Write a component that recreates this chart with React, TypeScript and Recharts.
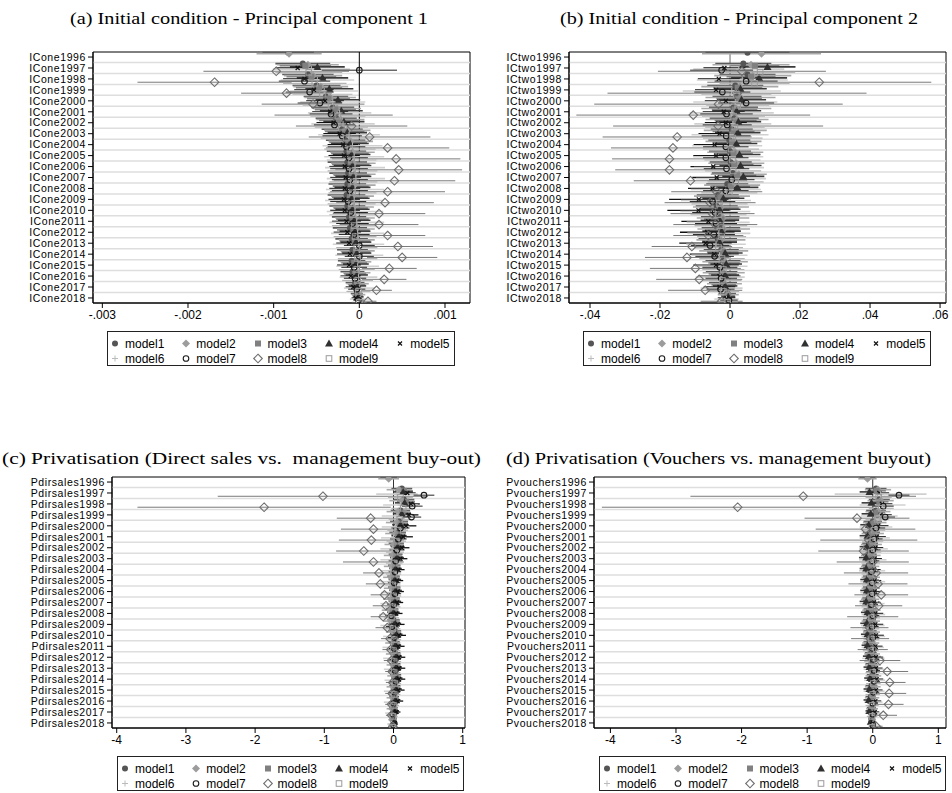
import React from 'react';
import {
  ScatterChart,
  Scatter,
  XAxis,
  YAxis,
  ErrorBar,
  ReferenceLine,
  ReferenceArea,
} from 'recharts';

const years = [
  1996, 1997, 1998, 1999, 2000, 2001, 2002, 2003, 2004, 2005, 2006, 2007,
  2008, 2009, 2010, 2011, 2012, 2013, 2014, 2015, 2016, 2017, 2018,
];
const models = ['model1', 'model2', 'model3', 'model4', 'model5', 'model6', 'model7', 'model8', 'model9'];

const labelsA = years.map((y) => `ICone${y}`);
const labelsB = years.map((y) => `ICtwo${y}`);
const labelsC = years.map((y) => `Pdirsales${y}`);
const labelsD = years.map((y) => `Pvouchers${y}`);

const ticksA = [-0.003, -0.002, -0.001, 0, 0.001];
const ticksB = [-0.04, -0.02, 0, 0.02, 0.04, 0.06];
const ticksCD = [-4, -3, -2, -1, 0, 1];

type Row = (number | null)[];

// (a) Initial condition - PC1: point estimates, one row per model
const estA: Row[] = [
  [-8.3e-4, -6.6e-4, -6.0e-4, -5.0e-4, -3.9e-4, -3.1e-4, -2.7e-4, -2.0e-4, -1.6e-4, -1.5e-4, -1.4e-4, -1.3e-4, -1.4e-4, -1.5e-4, -1.4e-4, -1.2e-4, -1.1e-4, -0.9e-4, -0.8e-4, -0.9e-4, -0.8e-4, -0.5e-4, -0.3e-4],
  [-8.2e-4, -6.0e-4, -5.4e-4, -4.5e-4, -3.4e-4, -2.6e-4, -2.2e-4, -1.4e-4, -1.0e-4, -0.8e-4, -0.7e-4, -0.6e-4, -0.6e-4, -0.8e-4, -0.7e-4, -0.5e-4, -0.4e-4, -0.3e-4, -0.2e-4, -0.4e-4, -0.3e-4, -0.2e-4, -0.1e-4],
  [null, -6.3e-4, -5.6e-4, -4.7e-4, -3.6e-4, -2.8e-4, -2.4e-4, -1.7e-4, -1.3e-4, -1.1e-4, -1.0e-4, -0.9e-4, -1.0e-4, -1.1e-4, -1.0e-4, -0.8e-4, -0.7e-4, -0.5e-4, -0.4e-4, -0.6e-4, -0.5e-4, -0.3e-4, -0.2e-4],
  [null, -4.9e-4, -4.3e-4, -3.5e-4, -2.5e-4, -2.1e-4, -1.8e-4, -1.4e-4, -1.1e-4, -0.9e-4, -0.8e-4, -0.7e-4, -0.8e-4, -0.9e-4, -0.8e-4, -0.6e-4, -0.5e-4, -0.4e-4, -0.3e-4, -0.4e-4, -0.3e-4, -0.2e-4, -0.1e-4],
  [null, -7.2e-4, -6.4e-4, -5.3e-4, -4.0e-4, -3.4e-4, -3.0e-4, -2.3e-4, -1.9e-4, -1.8e-4, -1.7e-4, -1.6e-4, -1.7e-4, -1.8e-4, -1.7e-4, -1.5e-4, -1.4e-4, -1.2e-4, -1.1e-4, -1.2e-4, -1.0e-4, -0.7e-4, -0.4e-4],
  [null, -5.6e-4, -4.9e-4, -4.1e-4, -3.1e-4, -2.3e-4, -1.9e-4, -1.2e-4, -0.8e-4, -0.6e-4, -0.5e-4, -0.4e-4, -0.5e-4, -0.6e-4, -0.5e-4, -0.3e-4, -0.2e-4, -0.1e-4, 0, -0.2e-4, -0.1e-4, 0, 0.1e-4],
  [null, 0, -6.4e-4, -5.8e-4, -4.6e-4, -3.3e-4, -2.9e-4, -2.0e-4, -1.5e-4, -1.2e-4, -1.2e-4, -1.1e-4, -1.1e-4, -1.3e-4, -1.0e-4, -0.8e-4, -0.6e-4, 0, 0, -0.6e-4, -0.5e-4, -0.3e-4, -0.1e-4],
  [null, -9.7e-4, -16.9e-4, -8.5e-4, -5.4e-4, -3.0e-4, -0.9e-4, 1.2e-4, 3.3e-4, 4.3e-4, 4.6e-4, 4.1e-4, 3.3e-4, 3.0e-4, 2.3e-4, 2.3e-4, 3.3e-4, 4.5e-4, 5.0e-4, 3.5e-4, 2.9e-4, 2.0e-4, 1.0e-4],
  [null, -5.9e-4, -5.2e-4, -4.3e-4, -3.3e-4, -2.5e-4, -2.1e-4, -1.5e-4, -1.1e-4, -0.9e-4, -0.8e-4, -0.7e-4, -0.8e-4, -0.9e-4, -0.8e-4, -0.6e-4, -0.5e-4, -0.3e-4, -0.2e-4, -0.3e-4, -0.2e-4, -0.1e-4, 0],
];
// half-widths of the confidence intervals
const ciA: Row[] = [
  [3.0e-4, 3.2e-4, 3.0e-4, 2.8e-4, 2.6e-4, 2.5e-4, 2.4e-4, 2.4e-4, 2.3e-4, 2.3e-4, 2.3e-4, 2.2e-4, 2.2e-4, 2.2e-4, 2.1e-4, 2.0e-4, 2.0e-4, 1.9e-4, 1.8e-4, 1.6e-4, 1.4e-4, 1.1e-4, 0.7e-4],
  [3.8e-4, 3.6e-4, 3.4e-4, 3.2e-4, 3.0e-4, 2.8e-4, 2.8e-4, 2.7e-4, 2.6e-4, 2.6e-4, 2.6e-4, 2.5e-4, 2.5e-4, 2.5e-4, 2.4e-4, 2.3e-4, 2.2e-4, 2.1e-4, 2.0e-4, 1.8e-4, 1.6e-4, 1.3e-4, 0.8e-4],
  [null, 3.0e-4, 2.9e-4, 2.7e-4, 2.5e-4, 2.4e-4, 2.3e-4, 2.3e-4, 2.2e-4, 2.2e-4, 2.2e-4, 2.1e-4, 2.1e-4, 2.1e-4, 2.0e-4, 1.9e-4, 1.9e-4, 1.8e-4, 1.7e-4, 1.5e-4, 1.3e-4, 1.0e-4, 0.6e-4],
  [null, 3.2e-4, 3.0e-4, 2.8e-4, 2.6e-4, 2.5e-4, 2.4e-4, 2.3e-4, 2.2e-4, 2.2e-4, 2.2e-4, 2.1e-4, 2.1e-4, 2.1e-4, 2.0e-4, 1.9e-4, 1.8e-4, 1.8e-4, 1.7e-4, 1.5e-4, 1.3e-4, 1.0e-4, 0.6e-4],
  [null, 2.6e-4, 2.5e-4, 2.3e-4, 2.2e-4, 2.1e-4, 2.0e-4, 1.9e-4, 1.8e-4, 1.8e-4, 1.8e-4, 1.8e-4, 1.8e-4, 1.8e-4, 1.7e-4, 1.7e-4, 1.6e-4, 1.5e-4, 1.5e-4, 1.4e-4, 1.2e-4, 0.9e-4, 0.5e-4],
  [null, 4.5e-4, 4.3e-4, 4.0e-4, 3.8e-4, 3.7e-4, 3.7e-4, 3.6e-4, 3.5e-4, 3.5e-4, 3.5e-4, 3.4e-4, 3.4e-4, 3.4e-4, 3.3e-4, 3.2e-4, 3.1e-4, 3.0e-4, 2.8e-4, 2.5e-4, 2.2e-4, 1.8e-4, 1.2e-4],
  [null, 4.4e-4, 3.0e-4, 2.8e-4, 2.6e-4, 2.5e-4, 2.4e-4, 2.3e-4, 2.2e-4, 2.2e-4, 2.2e-4, 2.1e-4, 2.1e-4, 2.1e-4, 2.0e-4, 1.9e-4, 1.8e-4, 1.8e-4, 1.7e-4, 1.5e-4, 1.3e-4, 1.0e-4, 0.6e-4],
  [null, 8.5e-4, 9.0e-4, 5.3e-4, 6.0e-4, 6.9e-4, 6.5e-4, 7.1e-4, 7.2e-4, 7.5e-4, 7.4e-4, 7.1e-4, 6.7e-4, 5.7e-4, 5.4e-4, 4.6e-4, 4.4e-4, 4.1e-4, 4.1e-4, 3.2e-4, 2.6e-4, 1.8e-4, 1.0e-4],
  [null, 3.9e-4, 3.7e-4, 3.5e-4, 3.3e-4, 3.2e-4, 3.1e-4, 3.0e-4, 3.0e-4, 2.9e-4, 2.9e-4, 2.8e-4, 2.8e-4, 2.8e-4, 2.7e-4, 2.6e-4, 2.5e-4, 2.4e-4, 2.3e-4, 2.1e-4, 1.8e-4, 1.4e-4, 0.9e-4],
];

// (b) Initial condition - PC2
const estB: Row[] = [
  [5.0e-3, 3.8e-3, 5.0e-3, 1.5e-3, 2.0e-3, 1.0e-3, 1.2e-3, 0.5e-3, -0.2e-3, 0, 0.2e-3, 0.8e-3, -0.8e-3, -3.5e-3, -3.8e-3, -2.8e-3, -2.6e-3, -3.5e-3, -2.5e-3, -2.0e-3, -2.4e-3, -2.0e-3, -0.8e-3],
  [9.0e-3, 6.0e-3, 6.5e-3, 2.8e-3, 3.0e-3, 1.8e-3, 2.0e-3, 1.5e-3, 1.0e-3, 1.5e-3, 1.8e-3, 2.5e-3, 0.6e-3, -2.3e-3, -2.6e-3, -2.0e-3, -1.8e-3, -2.6e-3, -1.8e-3, -1.4e-3, -1.8e-3, -1.6e-3, -0.5e-3],
  [null, 7.1e-3, 6.0e-3, 2.2e-3, 2.6e-3, 1.3e-3, 1.6e-3, 1.0e-3, 0.6e-3, 1.0e-3, 1.2e-3, 2.0e-3, 0.2e-3, -2.8e-3, -3.0e-3, -2.4e-3, -2.2e-3, -3.0e-3, -2.1e-3, -1.7e-3, -2.1e-3, -1.8e-3, -0.6e-3],
  [null, 10.7e-3, 8.3e-3, 3.0e-3, 3.3e-3, 1.9e-3, 2.4e-3, 2.2e-3, 1.8e-3, 2.7e-3, 3.0e-3, 3.8e-3, 2.1e-3, -1.9e-3, -3.0e-3, -2.9e-3, -2.4e-3, -3.0e-3, -1.4e-3, -1.1e-3, -1.4e-3, -1.4e-3, -0.5e-3],
  [null, -1.6e-3, -3.2e-3, -4.0e-3, -1.2e-3, -1.8e-3, -1.2e-3, -3.0e-3, -4.4e-3, -4.0e-3, -4.8e-3, -3.8e-3, -5.0e-3, -8.9e-3, -9.0e-3, -6.2e-3, -6.5e-3, -7.0e-3, -4.5e-3, -4.0e-3, -3.0e-3, -3.0e-3, -1.0e-3],
  [null, 2.5e-3, 3.5e-3, 0.5e-3, 1.5e-3, 0.5e-3, 0.8e-3, 0, -0.8e-3, -0.5e-3, -0.3e-3, 0.3e-3, -1.2e-3, -4.0e-3, -4.2e-3, -3.4e-3, -3.2e-3, -4.0e-3, -3.0e-3, -2.5e-3, -2.8e-3, -2.4e-3, -1.0e-3],
  [null, -2.4e-3, 4.6e-3, -2.2e-3, 4.6e-3, -1.0e-3, -0.8e-3, -1.1e-3, -1.2e-3, -1.2e-3, -1.0e-3, 0.5e-3, -1.2e-3, -5.0e-3, -4.3e-3, -4.0e-3, -4.6e-3, -5.7e-3, -4.4e-3, -2.9e-3, -2.5e-3, -2.7e-3, -0.3e-3],
  [null, 3.4e-3, 25.5e-3, 2.0e-3, -3.3e-3, -10.5e-3, -3.4e-3, -15.1e-3, -16.3e-3, -17.3e-3, -17.3e-3, -11.3e-3, -3.8e-3, -5.7e-3, -5.0e-3, -4.2e-3, -6.2e-3, -10.9e-3, -12.3e-3, -9.9e-3, -8.8e-3, -7.1e-3, -2.4e-3],
  [null, 8.6e-3, 7.0e-3, 1.8e-3, 2.2e-3, 1.0e-3, 1.4e-3, 0.8e-3, 0.3e-3, 0.7e-3, 0.9e-3, 1.6e-3, -0.2e-3, -3.0e-3, -3.3e-3, -2.6e-3, -2.4e-3, -3.3e-3, -2.3e-3, -1.9e-3, -2.2e-3, -1.9e-3, -0.7e-3],
];
const ciB: Row[] = [
  [12e-3, 8e-3, 8e-3, 8e-3, 7e-3, 7e-3, 7e-3, 6e-3, 6e-3, 6e-3, 6e-3, 6e-3, 6e-3, 6e-3, 6e-3, 5.5e-3, 5.5e-3, 5.5e-3, 5e-3, 5e-3, 4.5e-3, 4e-3, 2.5e-3],
  [17e-3, 11e-3, 11e-3, 11e-3, 10e-3, 10e-3, 9e-3, 9e-3, 8e-3, 8e-3, 8e-3, 8e-3, 8e-3, 8e-3, 8e-3, 7.5e-3, 7.5e-3, 7e-3, 7e-3, 6.5e-3, 6e-3, 5e-3, 3e-3],
  [null, 7e-3, 7e-3, 7e-3, 6.5e-3, 6.5e-3, 6e-3, 6e-3, 5.5e-3, 5.5e-3, 5.5e-3, 5.5e-3, 5.5e-3, 5.5e-3, 5.5e-3, 5e-3, 5e-3, 5e-3, 4.5e-3, 4.5e-3, 4e-3, 3.5e-3, 2e-3],
  [null, 8e-3, 8e-3, 7.5e-3, 7e-3, 7e-3, 6.5e-3, 6.5e-3, 6e-3, 6e-3, 6e-3, 6e-3, 6e-3, 6e-3, 6e-3, 5.5e-3, 5.5e-3, 5e-3, 5e-3, 4.5e-3, 4e-3, 3.5e-3, 2e-3],
  [null, 6e-3, 6e-3, 6e-3, 6e-3, 6e-3, 6e-3, 6e-3, 6e-3, 6.5e-3, 6.5e-3, 7e-3, 7e-3, 8.5e-3, 8.9e-3, 7.7e-3, 7.8e-3, 7.5e-3, 7e-3, 6.5e-3, 6e-3, 4.5e-3, 2.5e-3],
  [null, 13e-3, 13e-3, 14e-3, 12e-3, 12e-3, 11e-3, 11e-3, 10e-3, 10e-3, 10e-3, 10e-3, 10e-3, 10e-3, 10e-3, 9e-3, 9e-3, 8.5e-3, 8e-3, 7.5e-3, 7e-3, 6e-3, 3.5e-3],
  [null, 9e-3, 9e-3, 8e-3, 8e-3, 7.5e-3, 7e-3, 7e-3, 6.5e-3, 6.5e-3, 6.5e-3, 6.5e-3, 6.5e-3, 6.5e-3, 6.5e-3, 6e-3, 6e-3, 5.5e-3, 5.5e-3, 5e-3, 4.5e-3, 4e-3, 2.5e-3],
  [null, 24e-3, 32e-3, 37e-3, 35.5e-3, 33.4e-3, 30e-3, 21.3e-3, 17.7e-3, 16.4e-3, 15.5e-3, 16.2e-3, 13e-3, 13e-3, 12e-3, 12e-3, 10e-3, 11.5e-3, 12e-3, 13e-3, 12.3e-3, 10.6e-3, 6e-3],
  [null, 10e-3, 10e-3, 10e-3, 9e-3, 9e-3, 8.5e-3, 8.5e-3, 8e-3, 8e-3, 8e-3, 8e-3, 8e-3, 8e-3, 8e-3, 7.5e-3, 7e-3, 7e-3, 6.5e-3, 6e-3, 5.5e-3, 4.5e-3, 3e-3],
];

// (c) Privatisation: direct sales vs. management buy-out
const estC: Row[] = [
  [-0.07, 0.12, 0.15, 0.10, 0.08, 0.06, 0.04, 0.03, 0.01, 0.00, 0.01, 0.00, -0.02, 0.00, 0.02, 0.01, 0.02, 0.02, 0.03, 0.02, 0.01, 0.00, 0.00],
  [-0.07, 0.08, 0.12, 0.07, 0.05, 0.03, 0.01, -0.01, -0.02, -0.03, -0.02, -0.03, -0.05, -0.03, 0.00, -0.01, 0.00, 0.00, 0.01, 0.00, -0.01, -0.02, -0.02],
  [null, 0.15, 0.18, 0.13, 0.10, 0.07, 0.05, 0.04, 0.02, 0.01, 0.02, 0.01, -0.01, 0.01, 0.03, 0.02, 0.03, 0.03, 0.04, 0.03, 0.02, 0.01, 0.00],
  [null, 0.14, 0.16, 0.12, 0.10, 0.08, 0.06, 0.05, 0.03, 0.02, 0.03, 0.02, 0.00, 0.02, 0.04, 0.03, 0.04, 0.04, 0.05, 0.04, 0.03, 0.02, 0.01],
  [null, 0.20, 0.25, 0.22, 0.18, 0.14, 0.12, 0.10, 0.07, 0.05, 0.06, 0.05, 0.04, 0.06, 0.08, 0.07, 0.08, 0.08, 0.08, 0.07, 0.06, 0.04, 0.02],
  [null, 0.05, 0.10, 0.05, 0.03, 0.00, -0.02, -0.03, -0.04, -0.05, -0.04, -0.05, -0.07, -0.05, -0.02, -0.03, -0.02, -0.02, -0.01, -0.02, -0.03, -0.03, -0.03],
  [null, 0.44, 0.27, 0.26, 0.10, 0.07, 0.05, 0.03, 0.02, 0.01, 0.02, 0.00, -0.03, -0.02, 0.01, 0.01, 0.02, 0.02, 0.03, 0.01, 0.00, -0.01, 0.00],
  [null, -1.02, -1.87, -0.33, -0.29, -0.32, -0.43, -0.29, -0.21, -0.19, -0.13, -0.11, -0.15, -0.09, -0.05, -0.04, -0.03, -0.02, -0.01, -0.02, -0.03, -0.03, -0.01],
  [null, 0.10, 0.14, 0.09, 0.06, 0.04, 0.02, 0.01, 0.00, -0.01, 0.00, -0.01, -0.03, -0.01, 0.01, 0.00, 0.01, 0.01, 0.02, 0.01, 0.00, -0.01, -0.01],
];
const ciC: Row[] = [
  [0.12, 0.15, 0.15, 0.14, 0.13, 0.12, 0.11, 0.10, 0.09, 0.09, 0.09, 0.09, 0.09, 0.09, 0.09, 0.08, 0.08, 0.08, 0.08, 0.08, 0.07, 0.06, 0.04],
  [0.15, 0.18, 0.18, 0.17, 0.16, 0.15, 0.14, 0.13, 0.12, 0.12, 0.12, 0.12, 0.12, 0.12, 0.11, 0.11, 0.11, 0.10, 0.10, 0.10, 0.09, 0.08, 0.05],
  [null, 0.13, 0.13, 0.12, 0.11, 0.10, 0.10, 0.09, 0.08, 0.08, 0.08, 0.08, 0.08, 0.08, 0.08, 0.07, 0.07, 0.07, 0.07, 0.07, 0.06, 0.05, 0.04],
  [null, 0.14, 0.14, 0.13, 0.12, 0.11, 0.10, 0.10, 0.09, 0.09, 0.09, 0.09, 0.09, 0.09, 0.09, 0.08, 0.08, 0.08, 0.08, 0.08, 0.07, 0.06, 0.04],
  [null, 0.12, 0.13, 0.14, 0.15, 0.14, 0.11, 0.10, 0.09, 0.09, 0.09, 0.09, 0.09, 0.10, 0.10, 0.09, 0.09, 0.09, 0.09, 0.09, 0.08, 0.06, 0.04],
  [null, 0.30, 0.25, 0.22, 0.20, 0.18, 0.17, 0.16, 0.15, 0.14, 0.14, 0.14, 0.14, 0.14, 0.13, 0.13, 0.13, 0.12, 0.12, 0.12, 0.11, 0.09, 0.06],
  [null, 0.15, 0.15, 0.14, 0.13, 0.12, 0.11, 0.10, 0.09, 0.09, 0.09, 0.09, 0.09, 0.09, 0.09, 0.08, 0.08, 0.08, 0.08, 0.08, 0.07, 0.06, 0.04],
  [null, 1.52, 1.83, 0.49, 0.47, 0.47, 0.40, 0.44, 0.23, 0.21, 0.20, 0.19, 0.18, 0.17, 0.13, 0.12, 0.11, 0.10, 0.10, 0.10, 0.09, 0.08, 0.05],
  [null, 0.18, 0.17, 0.16, 0.15, 0.14, 0.13, 0.12, 0.11, 0.11, 0.11, 0.11, 0.11, 0.11, 0.10, 0.10, 0.10, 0.09, 0.09, 0.09, 0.08, 0.07, 0.05],
];

// (d) Privatisation: vouchers vs. management buyout
const estD: Row[] = [
  [-0.08, 0.05, 0.10, 0.05, 0.00, -0.02, -0.04, -0.05, -0.06, -0.05, -0.05, -0.06, -0.04, -0.05, -0.04, -0.05, -0.03, -0.02, 0.00, -0.02, -0.03, -0.02, -0.02],
  [-0.08, 0.08, 0.12, 0.08, 0.03, 0.00, -0.02, -0.03, -0.04, -0.03, -0.03, -0.04, -0.02, -0.03, -0.02, -0.03, -0.01, 0.00, 0.01, 0.00, -0.01, -0.01, -0.01],
  [null, 0.06, 0.10, 0.06, 0.01, -0.01, -0.03, -0.04, -0.05, -0.04, -0.04, -0.05, -0.03, -0.04, -0.03, -0.04, -0.02, -0.01, 0.00, -0.01, -0.02, -0.02, -0.02],
  [null, -0.05, -0.02, -0.03, -0.06, -0.08, -0.09, -0.10, -0.10, -0.09, -0.09, -0.10, -0.08, -0.09, -0.08, -0.08, -0.06, -0.05, -0.04, -0.05, -0.06, -0.05, -0.03],
  [null, 0.10, 0.14, 0.12, 0.08, 0.06, 0.04, 0.03, 0.02, 0.03, 0.03, 0.02, 0.04, 0.04, 0.05, 0.04, 0.05, 0.05, 0.06, 0.05, 0.04, 0.03, 0.01],
  [null, 0.12, 0.15, 0.10, 0.05, 0.03, 0.01, 0.00, -0.01, 0.00, 0.00, -0.01, 0.01, 0.00, 0.01, 0.00, 0.01, 0.02, 0.03, 0.02, 0.01, 0.00, 0.00],
  [null, 0.40, 0.16, 0.19, 0.05, 0.02, 0.00, -0.01, -0.02, -0.01, -0.01, -0.02, 0.00, -0.01, 0.00, -0.01, 0.01, 0.02, 0.02, 0.01, 0.00, 0.00, 0.00],
  [null, -1.06, -2.06, -0.24, -0.11, -0.06, -0.14, 0.00, 0.05, 0.08, 0.13, 0.09, 0.00, -0.05, -0.04, 0.00, 0.11, 0.22, 0.26, 0.25, 0.24, 0.16, 0.05],
  [null, 0.09, 0.13, 0.07, 0.02, 0.00, -0.02, -0.03, -0.04, -0.03, -0.03, -0.04, -0.02, -0.03, -0.02, -0.03, -0.01, 0.00, 0.01, 0.00, -0.01, -0.01, -0.01],
];
const ciD: Row[] = [
  [0.12, 0.16, 0.16, 0.15, 0.14, 0.13, 0.12, 0.11, 0.10, 0.10, 0.10, 0.10, 0.10, 0.10, 0.10, 0.09, 0.09, 0.09, 0.09, 0.09, 0.08, 0.07, 0.04],
  [0.14, 0.20, 0.20, 0.19, 0.18, 0.17, 0.16, 0.15, 0.14, 0.14, 0.14, 0.14, 0.14, 0.14, 0.13, 0.13, 0.12, 0.12, 0.12, 0.12, 0.11, 0.09, 0.05],
  [null, 0.14, 0.14, 0.13, 0.12, 0.11, 0.11, 0.10, 0.10, 0.10, 0.10, 0.10, 0.10, 0.10, 0.09, 0.09, 0.09, 0.08, 0.08, 0.08, 0.07, 0.06, 0.04],
  [null, 0.15, 0.15, 0.14, 0.13, 0.12, 0.11, 0.11, 0.10, 0.10, 0.10, 0.10, 0.10, 0.10, 0.10, 0.09, 0.09, 0.09, 0.09, 0.09, 0.08, 0.06, 0.04],
  [null, 0.15, 0.16, 0.17, 0.16, 0.14, 0.12, 0.11, 0.10, 0.10, 0.10, 0.10, 0.12, 0.12, 0.12, 0.11, 0.11, 0.10, 0.10, 0.10, 0.09, 0.07, 0.04],
  [null, 0.70, 0.35, 0.28, 0.25, 0.23, 0.22, 0.21, 0.20, 0.19, 0.19, 0.19, 0.18, 0.18, 0.18, 0.17, 0.17, 0.16, 0.16, 0.16, 0.14, 0.12, 0.07],
  [null, 0.16, 0.16, 0.15, 0.14, 0.13, 0.12, 0.11, 0.10, 0.10, 0.10, 0.10, 0.10, 0.10, 0.10, 0.09, 0.09, 0.09, 0.09, 0.09, 0.08, 0.07, 0.04],
  [null, 1.72, 2.07, 0.80, 0.76, 0.74, 0.69, 0.55, 0.49, 0.45, 0.41, 0.36, 0.39, 0.29, 0.29, 0.23, 0.31, 0.32, 0.24, 0.26, 0.23, 0.21, 0.10],
  [null, 0.20, 0.19, 0.18, 0.17, 0.16, 0.15, 0.14, 0.13, 0.13, 0.13, 0.13, 0.13, 0.13, 0.12, 0.12, 0.12, 0.11, 0.11, 0.11, 0.10, 0.08, 0.05],
];

const SANS = '"Liberation Sans", Arial, sans-serif';
const SERIF = '"Liberation Serif", "Times New Roman", serif';

// marker look per model (Stata mono scheme)
const modelStyle = [
  { kind: 'dot', color: '#555555', line: '#5a5a5a', lw: 1.6 },
  { kind: 'diamond', color: '#9c9c9c', line: '#a9a9a9', lw: 1.6 },
  { kind: 'square', color: '#808080', line: '#858585', lw: 1.6 },
  { kind: 'triangle', color: '#303030', line: '#3a3a3a', lw: 1.6 },
  { kind: 'x', color: '#111111', line: '#111111', lw: 1.3 },
  { kind: 'plus', color: '#bbbbbb', line: '#d0d0d0', lw: 1.6 },
  { kind: 'ocircle', color: '#1a1a1a', line: '#222222', lw: 1.0 },
  { kind: 'odiamond', color: '#6e6e6e', line: '#7a7a7a', lw: 1.0 },
  { kind: 'osquare', color: '#9a9a9a', line: '#b4b4b4', lw: 1.2 },
];
const modelOffset = [-0.4, -0.3, -0.2, -0.1, 0, 0.1, 0.2, 0.3, 0.4];

const rowTicks = years.map((_, i) => i);
const rowGaps = years.slice(1).map((_, i) => i + 0.5);
const yDomain: [number, number] = [-0.46, years.length - 1 + 0.46];

const stataFmt = (v: number) =>
  v === 0 ? '0' : String(+v.toFixed(4)).replace(/^(-?)0\./, '$1.');

function Marker({ kind, color, cx, cy }: { kind: string; color: string; cx: number; cy: number }) {
  if (cx == null || cy == null) return null;
  switch (kind) {
    case 'dot':
      return <circle cx={cx} cy={cy} r={3} fill={color} />;
    case 'diamond':
      return <polygon points={`${cx},${cy - 4} ${cx + 4},${cy} ${cx},${cy + 4} ${cx - 4},${cy}`} fill={color} />;
    case 'square':
      return <rect x={cx - 3} y={cy - 3} width={6} height={6} fill={color} />;
    case 'triangle':
      return <polygon points={`${cx},${cy - 4} ${cx + 4},${cy + 3} ${cx - 4},${cy + 3}`} fill={color} />;
    case 'x':
      return (
        <path
          d={`M${cx - 2},${cy - 2}L${cx + 2},${cy + 2}M${cx - 2},${cy + 2}L${cx + 2},${cy - 2}`}
          stroke={color}
          strokeWidth={1.2}
        />
      );
    case 'plus':
      return <path d={`M${cx - 3},${cy}H${cx + 3}M${cx},${cy - 3}V${cy + 3}`} stroke={color} strokeWidth={1} />;
    case 'ocircle':
      return <circle cx={cx} cy={cy} r={2.8} fill="none" stroke={color} strokeWidth={1.1} />;
    case 'odiamond':
      return (
        <polygon
          points={`${cx},${cy - 4.3} ${cx + 4.3},${cy} ${cx},${cy + 4.3} ${cx - 4.3},${cy}`}
          fill="none"
          stroke={color}
          strokeWidth={1.1}
        />
      );
    default:
      return <rect x={cx - 2.8} y={cy - 2.8} width={5.6} height={5.6} fill="none" stroke={color} strokeWidth={1} />;
  }
}

function LegendBox({ left, top, width }: { left: number; top: number; width: number }) {
  return (
    <div
      style={{
        position: 'absolute',
        left,
        top,
        width,
        height: 35,
        border: '1px solid #222',
        boxSizing: 'border-box',
        fontFamily: SANS,
        fontSize: 12,
        color: '#000',
      }}
    >
      {models.map((m, k) => {
        const col = k < 5 ? k : k - 5;
        const row = k < 5 ? 0 : 1;
        return (
          <div
            key={m}
            style={{
              position: 'absolute',
              left: col * 71.3 - 1,
              top: 4 + row * 15,
              height: 15,
              display: 'flex',
              alignItems: 'center',
              whiteSpace: 'nowrap',
            }}
          >
            <svg width={16} height={15}>
              <Marker kind={modelStyle[k].kind} color={modelStyle[k].color} cx={8} cy={7.5} />
            </svg>
            <span style={{ marginLeft: 2 }}>{m}</span>
          </div>
        );
      })}
    </div>
  );
}

type PanelProps = {
  left: number;
  top: number;
  yWidth: number;
  right: number;
  domain: [number, number];
  ticks: number[];
  labels: string[];
  est: Row[];
  ci: Row[];
  zeroColor: string;
};

function CoefPanel({ left, top, yWidth, right, domain, ticks, labels, est, ci, zeroColor }: PanelProps) {
  const series = est.map((row, k) =>
    row.flatMap((v, i) => (v == null ? [] : [{ x: v, y: i + modelOffset[k], err: ci[k][i] ?? 0 }]))
  );
  const xTick = { fill: '#000', fontSize: 12, fontFamily: SANS };
  const yTick = { fill: '#000', fontSize: 10.5, fontFamily: SANS, letterSpacing: 0.6 };
  return (
    <div style={{ position: 'absolute', left, top }}>
      <ScatterChart width={476} height={290} margin={{ top: 12, right, bottom: 0, left: 0 }}>
        <XAxis
          type="number"
          dataKey="x"
          domain={domain}
          ticks={ticks}
          interval={0}
          allowDataOverflow
          tickFormatter={stataFmt}
          height={27}
          tickSize={5}
          tickMargin={2}
          stroke="#000"
          tick={xTick}
        />
        <YAxis
          type="number"
          dataKey="y"
          domain={yDomain}
          reversed
          ticks={rowTicks}
          interval={0}
          allowDataOverflow
          tickFormatter={(i: number) => labels[i] ?? ''}
          width={yWidth}
          tickSize={5}
          tickMargin={2}
          stroke="#000"
          tick={yTick}
        />
        {rowGaps.map((g) => (
          <ReferenceLine key={g} y={g} stroke="#dedede" strokeWidth={1.5} />
        ))}
        <ReferenceLine x={0} stroke={zeroColor} strokeWidth={1} />
        {series.map((data, k) => (
          <Scatter
            key={models[k]}
            name={models[k]}
            data={data}
            isAnimationActive={false}
            shape={(p: any) => <Marker kind={modelStyle[k].kind} color={modelStyle[k].color} cx={p.cx} cy={p.cy} />}
          >
            <ErrorBar
              dataKey="err"
              direction="x"
              width={0}
              stroke={modelStyle[k].line}
              strokeWidth={modelStyle[k].lw}
              isAnimationActive={false}
            />
          </Scatter>
        ))}
        <ReferenceArea
          x1={domain[0]}
          x2={domain[1]}
          y1={yDomain[0]}
          y2={yDomain[1]}
          fill="none"
          fillOpacity={0}
          stroke="#000"
          strokeWidth={1}
        />
      </ScatterChart>
    </div>
  );
}

function Title({ text, cx, cy, width }: { text: string; cx: number; cy: number; width: number }) {
  return (
    <svg style={{ position: 'absolute', left: cx - width / 2 - 4, top: cy - 14 }} width={width + 8} height={28}>
      <text
        x={4}
        y={20}
        textLength={width}
        lengthAdjust="spacingAndGlyphs"
        fontFamily={SERIF}
        fontSize={17}
        fill="#000"
        style={{ whiteSpace: 'pre' }}
      >
        {text}
      </text>
    </svg>
  );
}

export default function App() {
  return (
    <div style={{ position: 'absolute', left: 0, top: 0, width: 952, height: 793, background: '#fff', overflow: 'hidden' }}>
      <Title text="(a) Initial condition - Principal component 1" cx={249} cy={18} width={358} />
      <Title text="(b) Initial condition - Principal component 2" cx={739} cy={18} width={358} />
      <Title text="(c) Privatisation (Direct sales vs.  management buy-out)" cx={241.5} cy={458} width={479} />
      <Title text="(d) Privatisation (Vouchers vs. management buyout)" cx={718.5} cy={458} width={425} />

      <CoefPanel left={0} top={40} yWidth={93} right={6} domain={[-0.003109, 0.001292]} ticks={ticksA} labels={labelsA} est={estA} ci={ciA} zeroColor="#000" />
      <CoefPanel left={476} top={40} yWidth={93} right={6} domain={[-0.046, 0.0617]} ticks={ticksB} labels={labelsB} est={estB} ci={ciB} zeroColor="#666" />
      <CoefPanel left={0} top={465} yWidth={112} right={11} domain={[-4.068, 1.033]} ticks={ticksCD} labels={labelsC} est={estC} ci={ciC} zeroColor="#333" />
      <CoefPanel left={476} top={465} yWidth={118} right={6} domain={[-4.25, 1.117]} ticks={ticksCD} labels={labelsD} est={estD} ci={ciD} zeroColor="#333" />

      <LegendBox left={107} top={331} width={348} />
      <LegendBox left={583} top={331} width={348} />
      <LegendBox left={117} top={756} width={347} />
      <LegendBox left={599} top={756} width={347} />
    </div>
  );
}
